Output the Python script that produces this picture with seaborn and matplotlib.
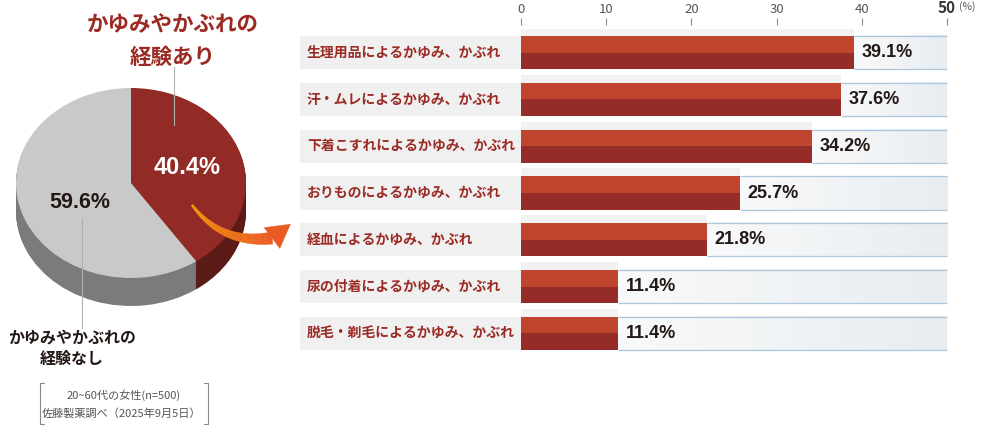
import numpy as np
import pandas as pd
import matplotlib
matplotlib.use('Agg')
import matplotlib.pyplot as plt
import seaborn as sns
from matplotlib.colors import LinearSegmentedColormap, to_rgb
from matplotlib.patches import Rectangle, Polygon

# data
categories = ['生理用品によるかゆみ、かぶれ', '汗・ムレによるかゆみ、かぶれ',
              '下着こすれによるかゆみ、かぶれ', 'おりものによるかゆみ、かぶれ',
              '経血によるかゆみ、かぶれ', '尿の付着によるかゆみ、かぶれ',
              '脱毛・剃毛によるかゆみ、かぶれ']
values = [39.1, 37.6, 34.2, 25.7, 21.8, 11.4, 11.4]
x_ticks = [0, 10, 20, 30, 40, 50]

pie_labels = ['かゆみやかぶれの\n経験あり', 'かゆみやかぶれの\n経験なし']
pie_values = [40.4, 59.6]

note_lines = ['20~60代の女性(n=500)', '佐藤製薬調べ（2025年9月5日）']

sns.set_style('white')
plt.rcParams['font.family'] = ['Noto Sans CJK JP', 'DejaVu Sans']

W, H = 986, 438
fig = plt.figure(figsize=(W / 100, H / 100), dpi=100)

RED_TOP = '#bf452e'
RED_LOW = '#962c27'
LABEL_RED = '#9b2b25'
INK = '#231815'

# ---------------- bar chart ----------------
px_per = 426 / 50          # pixels per percent
x0_px = 521                # pixel of 0 %
left_px, right_px = 300, 964
top_px, bot_px = 29.1, 356.9
ax = fig.add_axes([left_px / W, 1 - bot_px / H, (right_px - left_px) / W, (bot_px - top_px) / H])
xmin = (left_px - x0_px) / px_per
xmax = (right_px - x0_px) / px_per

h = 0.705
df = pd.DataFrame({'cat': categories, 'val': values})
sns.barplot(data=df, x='val', y='cat', orient='h', color=RED_LOW, saturation=1,
            width=h, linewidth=0, ax=ax, zorder=3)
ypos = np.arange(len(values))
ax.barh(ypos - h / 4, values, height=h / 2, color=RED_TOP, linewidth=0, zorder=4)

track_cmap = LinearSegmentedColormap.from_list('track', ['#f8f9fa', '#e9edf0'])
grad = np.linspace(0, 1, 64).reshape(1, -1)
shadow = 8 / 46.83
for i, v in enumerate(values):
    ax.add_patch(Rectangle((xmin, i - h / 2), -xmin, h, color='#f0f0f0', lw=0, zorder=1))
    ax.add_patch(Rectangle((0, i - h / 2 - shadow), v, h + shadow, color='#f2f2f2', lw=0, zorder=1))
    ax.imshow(grad, extent=(v, 50, i + h / 2, i - h / 2), aspect='auto', cmap=track_cmap, zorder=1)
    ax.hlines([i - h / 2, i + h / 2], v, 50, color='#a9c7df', lw=0.9, zorder=2)
    ax.text(xmin + 0.8, i, categories[i], ha='left', va='center', color=LABEL_RED,
            fontsize=10, fontweight='bold')
    ax.text(v + 0.9, i, f'{v}%', ha='left', va='center', color=INK, fontsize=13,
            fontweight='bold', family=['Liberation Sans'])

ax.set_xlim(xmin, xmax)
ax.set_ylim(len(values) - 0.5, -0.5)
ax.set_xticks(x_ticks)
ax.set_yticks([])
ax.set_xlabel('')
ax.set_ylabel('')
ax.xaxis.tick_top()
ax.tick_params(axis='x', top=True, bottom=False, length=5, width=0.8, color='#8c8c8c',
               pad=1.5, labelsize=9.5, labelcolor='#555555')
for s in ax.spines.values():
    s.set_visible(False)
ax.spines['top'].set_position(('outward', 3.2))
last = ax.xaxis.get_major_ticks()[-1].label2
last.set_fontsize(11)
last.set_color('#333333')
last.set_fontweight('bold')
ax.patch.set_visible(False)

# ---------------- pie ----------------
pax = fig.add_axes([0, 0, 300 / W, 1])
cx, cy, rx, ry = 131, 183, 115, 95
depth = 28 / ry
for d in np.linspace(depth, 0, 30, endpoint=False):
    pax.pie(pie_values, colors=['#5c1b17', '#7b7b7b'], startangle=90, counterclock=False,
            center=(0, -d), wedgeprops=dict(linewidth=0))
pax.pie(pie_values, colors=['#922b25', '#c9c9c9'], startangle=90, counterclock=False,
        wedgeprops=dict(linewidth=0))
pax.set_aspect('auto')
pax.set_xlim(-cx / rx, (300 - cx) / rx)
pax.set_ylim((cy - H) / ry, cy / ry)
pax.axis('off')

# ---------------- overlay (pixel coords) ----------------
ov = fig.add_axes([0, 0, 1, 1])
ov.set_xlim(0, W)
ov.set_ylim(H, 0)
ov.axis('off')
ov.patch.set_visible(False)

ov.text(173, 41, pie_labels[0], ha='center', va='center', fontsize=15.5, fontweight='bold',
        color='#9b2a23', linespacing=1.65)
ov.plot([174, 174], [67, 125], color='#b0b0b0', lw=0.8)
ov.text(187, 167, f'{pie_values[0]}%', ha='center', va='center', fontsize=17, fontweight='bold',
        color='white', family=['Liberation Sans'])
ov.text(80, 203, f'{pie_values[1]}%', ha='center', va='center', fontsize=15.5, fontweight='bold',
        color=INK, family=['Liberation Sans'])
ov.plot([82, 82], [218, 328], color='#b0b0b0', lw=0.8)
ov.text(72, 348, pie_labels[1], ha='center', va='center', fontsize=11.5, fontweight='bold',
        color=INK, linespacing=1.4)

ov.text(124, 395, note_lines[0], ha='center', va='center', fontsize=8, color='#555555')
ov.text(122, 413, note_lines[1], ha='center', va='center', fontsize=8, color='#555555')
ov.plot([44, 40, 40, 44], [383, 383, 424, 424], color='#888888', lw=0.8)
ov.plot([204, 208, 208, 204], [383, 383, 424, 424], color='#888888', lw=0.8)
ov.text(967, 7, '(%)', ha='center', va='center', fontsize=7.5, color='#555555')

# curved orange arrow
P0, P1, P2 = np.array([192., 205.]), np.array([222., 245.]), np.array([272., 238.])
t = np.linspace(0, 1, 40)
pts = ((1 - t) ** 2)[:, None] * P0 + (2 * (1 - t) * t)[:, None] * P1 + (t ** 2)[:, None] * P2
der = 2 * (1 - t)[:, None] * (P1 - P0) + 2 * t[:, None] * (P2 - P1)
nrm = np.stack([-der[:, 1], der[:, 0]], 1)
nrm /= np.linalg.norm(nrm, axis=1)[:, None]
wid = np.linspace(1.0, 6.0, 40)
lft = pts + nrm * wid[:, None]
rgt = pts - nrm * wid[:, None]
c0, c1 = np.array(to_rgb('#f39a10')), np.array(to_rgb('#ea5a24'))
for k in range(39):
    col = c0 + (c1 - c0) * t[k]
    ov.add_patch(Polygon([lft[k], lft[k + 1], rgt[k + 1], rgt[k]], closed=True, fc=col, ec=col, lw=0.3))
hd = np.array([0.8, -0.6])
hn = np.array([0.6, 0.8])
ov.add_patch(Polygon([P2 + hn * 13, P2 + hd * 23, P2 - hn * 13], closed=True, fc=c1, ec=c1, lw=0.3))

fig.savefig('out.png', dpi=100)
